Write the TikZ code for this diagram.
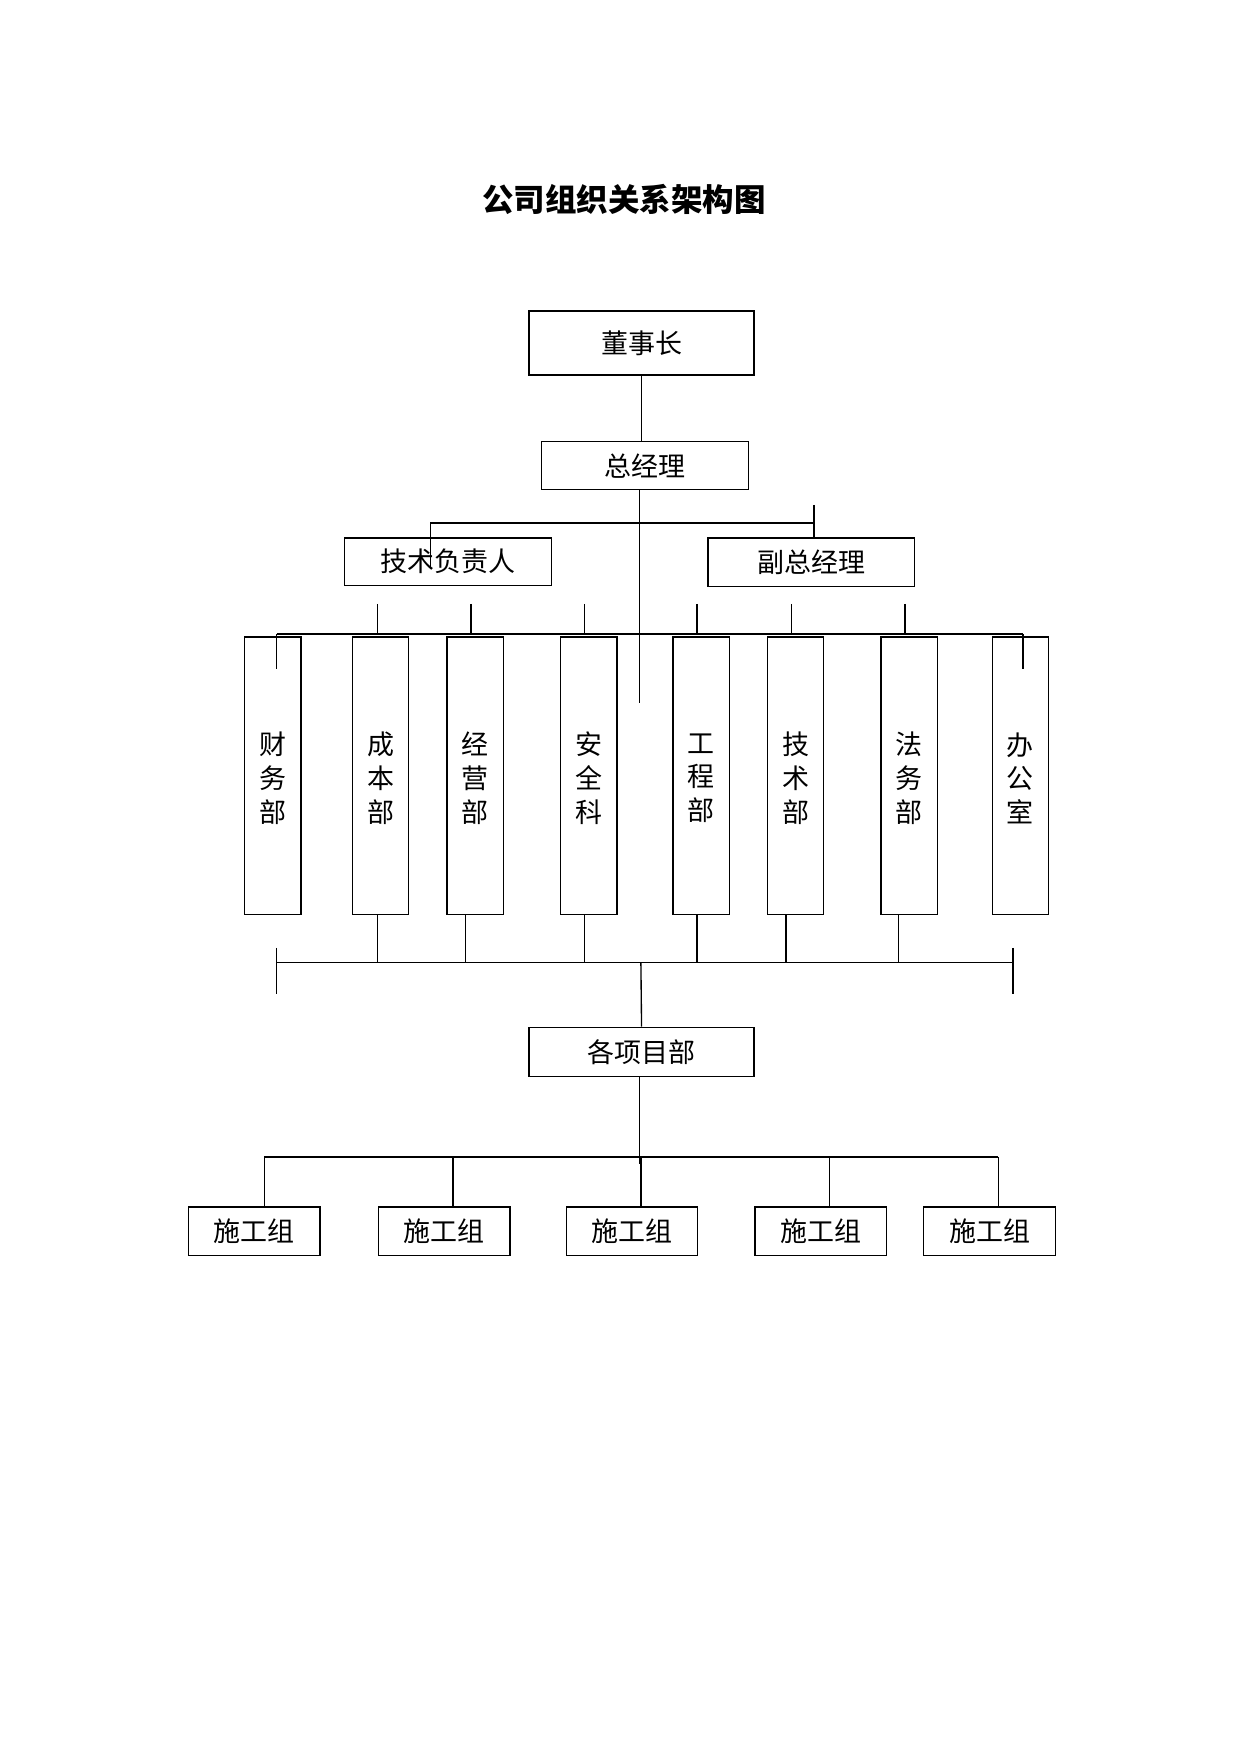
\documentclass[tikz,border=0pt]{standalone}
\usepackage{fontspec}
\newfontfamily\cjk{Noto Sans CJK SC}
\begin{document}
\begin{tikzpicture}[x=0.5pt,y=-0.5pt,line width=0.6pt,
  bx/.style={draw,anchor=north west,inner sep=0pt,font=\cjk\fontsize{12}{14}\selectfont},
  vt/.style={font=\cjk\fontsize{12}{15}\selectfont,align=center}]
\useasboundingbox (0,0) rectangle (1103,1560);
\node[font=\cjk\bfseries\fontsize{14}{16}\selectfont] (title) at (555,177) {公司组织关系架构图};
\newcommand\bxn[6]{\node[bx,minimum width=#3*0.5pt,minimum height=#4*0.5pt] (#5) at (#1,#2) {#6};}
\bxn{470}{276}{200}{57}{dsz}{董事长}
\bxn{481}{392}{184}{43}{zjl}{总经理}
\bxn{306}{478}{184}{42}{jsfz}{技术负责人}
\bxn{629}{478}{184}{43}{fzjl}{副总经理}
\bxn{470}{913}{200}{44}{xmb}{各项目部}
\foreach \x/\n/\t in {217/d1/财\\务\\部,313/d2/成\\本\\部,397/d3/经\\营\\部,498/d4/安\\全\\科,598/d5/工\\程\\部,682/d6/技\\术\\部,783/d7/法\\务\\部,882/d8/办\\公\\室}{
  \node[draw,anchor=north west,minimum width=25pt,minimum height=123.5pt,inner sep=0pt] (\n) at (\x,566) {};
  \node[vt] at ([yshift=-1pt]\n.center) {\t};
}
\foreach \x/\n in {167/s1,336/s2,503/s3,671/s4,821/s5}{
  \node[bx,minimum width=58.5pt,minimum height=21.5pt] (\n) at (\x,1073) {施工组};
}
% top
\draw (dsz.south) -- (zjl.north -| dsz.south);
\coordinate (m1) at (569,625);
\draw (569,435) -- (m1);
\draw (383,505) -- (383,465) -- (724,465);
\draw (724,449) -- (fzjl.north -| 724,0);
\foreach \x in {336,419,520,620,704,805}{\draw (\x,537) -- (\x,564);}
\draw (246,564) -- (910,564);
\draw (246,564) -- (246,595);
\draw (910,564) -- (910,595);
% bottom of depts
\foreach \x in {336,414,520,620,699,799}{\draw (\x,813) -- (\x,856);}
\draw (246,856) -- (901,856);
\draw (246,843) -- (246,884);
\draw (901,843) -- (901,884);
\draw (570,856) -- (xmb.north);
\draw (569,957) -- (569,1035);
\draw (235,1029) -- (888,1029);
\foreach \x/\n in {235/s1,403/s2,570/s3,738/s4,888/s5}{\draw (\x,1029) -- (\x,1073);}
\end{tikzpicture}
\end{document}
